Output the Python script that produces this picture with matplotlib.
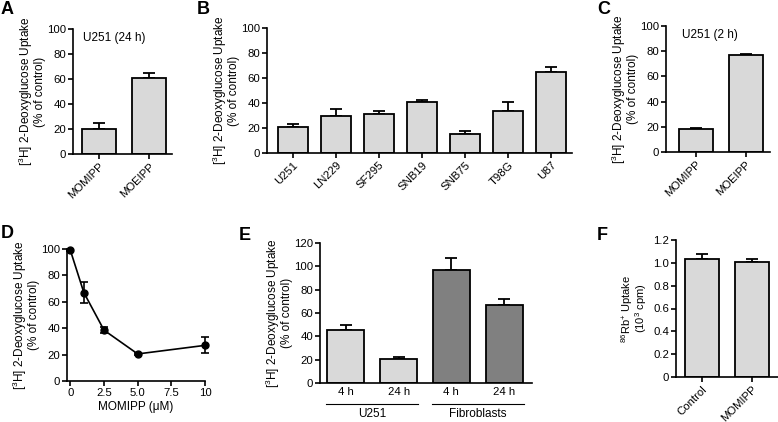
import matplotlib
matplotlib.use("Agg")
import matplotlib.pyplot as plt
import numpy as np

plt.rcParams['font.family'] = ['Liberation Sans', 'DejaVu Sans']
FS = 8.2
LFS = 8.5
plt.rcParams['font.size'] = FS
plt.rcParams['axes.linewidth'] = 1.2
plt.rcParams['mathtext.default'] = 'regular'

# Data
a_cats = ["MOMIPP", "MOEIPP"]
a_vals = [20, 61]
a_err = [4.5, 4]

b_cats = ["U251", "LN229", "SF295", "SNB19", "SNB75", "T98G", "U87"]
b_vals = [20.5, 29.5, 31.5, 41, 15, 34, 65]
b_err = [2.5, 5.5, 2, 1.5, 3, 6.5, 4]

c_cats = ["MOMIPP", "MOEIPP"]
c_vals = [18, 77]
c_err = [1, 1]

d_x = [0, 1, 2.5, 5, 10]
d_y = [99, 67, 38.5, 20.5, 27]
d_err = [0.5, 8, 2.5, 0.5, 6]
d_ticks = [0, 2.5, 5.0, 7.5, 10]
d_ticklabels = ["0", "2.5", "5.0", "7.5", "10"]

e_cats = ["4 h", "24 h", "4 h", "24 h"]
e_vals = [45.5, 20.5, 97, 67]
e_err = [4.5, 1.5, 10, 5]
e_groups = ["U251", "Fibroblasts"]

f_cats = ["Control", "MOMIPP"]
f_vals = [1.035, 1.005]
f_err = [0.04, 0.025]

LIGHT = "#d9d9d9"
DARK = "#808080"
W, H = 778, 422

fig = plt.figure(figsize=(7.78, 4.22), dpi=100)

def ax_px(left, right, top, bottom):
    return fig.add_axes([left / W, (H - bottom) / H, (right - left) / W, (bottom - top) / H])

ylab = "[$^{3}$H] 2-Deoxyglucose Uptake\n(% of control)"

def style(ax):
    for s in ["top", "right"]:
        ax.spines[s].set_visible(False)
    ax.tick_params(direction="out", length=3.5, width=1.2, labelsize=FS, pad=1.5)

def set_ylab(ax, text, fs=LFS, pad=1):
    ax.set_ylabel(text, fontsize=fs, labelpad=pad, linespacing=0.85)

def bars(ax, vals, err, colors, width=0.7):
    x = np.arange(len(vals))
    ax.bar(x, vals, width=width, color=colors, edgecolor="black", linewidth=1.3, zorder=2)
    ax.errorbar(x, vals, yerr=[np.zeros(len(err)), err], fmt="none", ecolor="black",
                elinewidth=1.3, capsize=4.5, capthick=1.3, zorder=1)
    return x

# A
axA = ax_px(73, 172, 29, 154)
style(axA)
x = bars(axA, a_vals, a_err, LIGHT, 0.68)
axA.set_xlim(-0.52, 1.46)
axA.set_ylim(0, 100)
axA.set_yticks([0, 20, 40, 60, 80, 100])
axA.set_xticks(x)
axA.set_xticklabels(a_cats, rotation=45, ha="right", rotation_mode="anchor")
set_ylab(axA, ylab)
axA.text(0.1, 0.98, "U251 (24 h)", transform=axA.transAxes, fontsize=LFS, va="top")

# B
axB = ax_px(267, 572, 28, 153)
style(axB)
x = bars(axB, b_vals, b_err, LIGHT, 0.7)
axB.set_xlim(-0.6, 6.49)
axB.set_ylim(0, 100)
axB.set_yticks([0, 20, 40, 60, 80, 100])
axB.set_xticks(x)
axB.set_xticklabels(b_cats, rotation=45, ha="right", rotation_mode="anchor")
set_ylab(axB, ylab)

# C
axC = ax_px(666, 770, 26, 152)
style(axC)
x = bars(axC, c_vals, c_err, LIGHT, 0.69)
axC.set_xlim(-0.61, 1.49)
axC.set_ylim(0, 100)
axC.set_yticks([0, 20, 40, 60, 80, 100])
axC.set_xticks(x)
axC.set_xticklabels(c_cats, rotation=45, ha="right", rotation_mode="anchor")
set_ylab(axC, ylab)
axC.text(0.15, 0.98, "U251 (2 h)", transform=axC.transAxes, fontsize=LFS, va="top")

# D
axD = ax_px(67, 205, 249, 381)
style(axD)
axD.errorbar(d_x, d_y, yerr=d_err, fmt="-o", color="black", markersize=5,
             linewidth=1.2, elinewidth=1.2, capsize=3, capthick=1.2, clip_on=False, zorder=3)
axD.set_xlim(-0.25, 10)
axD.set_ylim(0, 100)
axD.set_yticks([0, 20, 40, 60, 80, 100])
axD.set_xticks(d_ticks)
axD.set_xticklabels(d_ticklabels)
axD.set_xlabel("MOMIPP (\u03bcM)", fontsize=LFS, labelpad=2)
set_ylab(axD, ylab)

# E
axE = ax_px(320, 532, 243, 383)
style(axE)
x = bars(axE, e_vals, e_err, [LIGHT, LIGHT, DARK, DARK], 0.7)
axE.set_xlim(-0.49, 3.53)
axE.set_ylim(0, 120)
axE.set_yticks([0, 20, 40, 60, 80, 100, 120])
axE.set_xticks(x)
axE.set_xticklabels(e_cats)
axE.tick_params(axis="x", length=0, pad=3)
set_ylab(axE, ylab)
trans = matplotlib.transforms.blended_transform_factory(axE.transData, axE.transAxes)
for gi, g in enumerate(e_groups):
    x0 = x[2 * gi] - 0.37
    x1 = x[2 * gi + 1] + 0.37
    axE.plot([x0, x1], [-0.15, -0.15], color="black", linewidth=0.8, transform=trans, clip_on=False)
    axE.text((x0 + x1) / 2, -0.18, g, transform=trans, ha="center", va="top", fontsize=LFS)

# F
axF = ax_px(676, 778, 240, 377)
style(axF)
x = bars(axF, f_vals, f_err, LIGHT, 0.68)
axF.set_xlim(-0.52, 1.52)
axF.set_ylim(0, 1.2)
axF.set_yticks([0, 0.2, 0.4, 0.6, 0.8, 1.0, 1.2])
axF.set_yticklabels(["0", "0.2", "0.4", "0.6", "0.8", "1.0", "1.2"])
axF.set_xticks(x)
axF.set_xticklabels(f_cats, rotation=45, ha="right", rotation_mode="anchor")
set_ylab(axF, "$^{86}$Rb$^{+}$ Uptake\n(10$^{3}$ cpm)", fs=8, pad=3)

# panel letters
for lab, px, py in [("A", 7, 9), ("B", 203, 10), ("C", 604, 9),
                    ("D", 7, 234), ("E", 245, 236), ("F", 602, 236)]:
    fig.text(px / W, 1 - py / H, lab, fontsize=13, fontweight="bold", ha="center", va="center")

fig.savefig("out.png", dpi=100)
